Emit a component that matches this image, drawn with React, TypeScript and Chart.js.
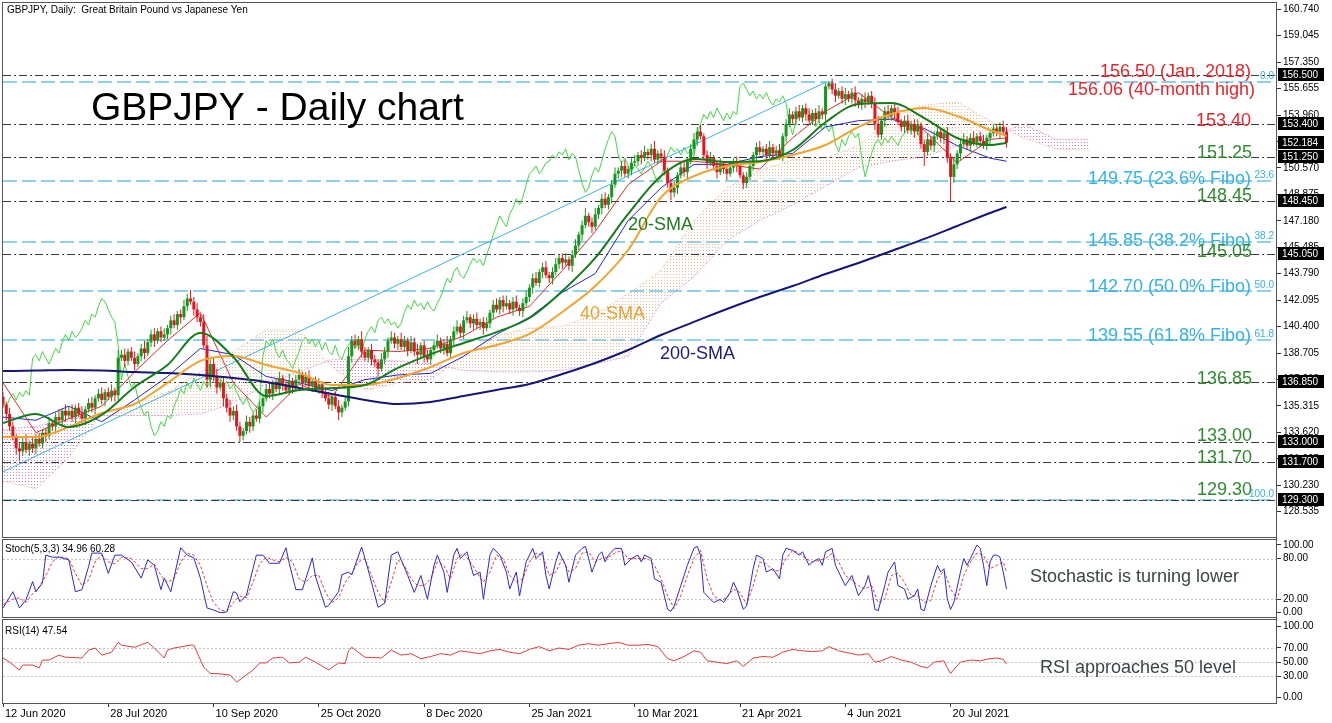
import React, { useEffect, useRef } from 'react';
import { Chart, registerables } from 'chart.js';

Chart.register(...registerables);

// ---------- DATA ----------
const dateLabels = ['12 Jun 2020', '28 Jul 2020', '10 Sep 2020', '25 Oct 2020', '8 Dec 2020', '25 Jan 2021', '10 Mar 2021', '21 Apr 2021', '4 Jun 2021', '20 Jul 2021'];
const dateTickIdx = [0, 32, 64, 96, 128, 160, 192, 224, 256, 288];

const firstOpen = 135.9;
const closes = [
  135.4, 134.8, 134.0, 133.3, 132.6, 132.4, 133.0, 132.5, 132.9, 132.6,
  133.2, 132.9, 133.6, 133.4, 134.2, 134.0, 134.6, 134.4, 135.0, 134.7,
  135.0, 134.6, 135.2, 134.8, 134.5, 135.1, 135.5, 135.2, 135.8, 136.1,
  135.7, 136.2, 135.9, 136.3, 136.0, 138.4, 138.6, 138.2, 138.8, 138.4,
  138.0, 138.5, 139.0, 138.7, 139.4, 139.9, 139.5, 140.1, 139.7, 139.9,
  140.3, 140.8, 140.5, 141.2, 141.0, 141.7, 142.2, 142.0, 141.5, 141.0,
  140.7, 139.2, 137.0, 138.0, 137.2, 136.5, 136.8, 135.8, 135.2, 134.7,
  135.0, 134.0, 133.4, 133.7, 134.3, 134.0, 134.7, 134.5, 135.3, 135.8,
  136.4, 136.1, 136.8, 136.4, 137.1, 136.7, 136.3, 136.9, 136.5, 137.0,
  137.3, 136.8, 137.2, 136.6, 136.9, 136.4, 136.7, 136.2, 135.8, 135.4,
  135.9, 135.3, 134.9, 135.2, 135.6, 138.5, 139.5, 139.2, 139.6, 138.8,
  138.4, 138.9, 138.3, 138.1, 137.7, 138.3, 138.8, 139.5, 139.7, 139.3,
  139.6, 139.1, 139.5, 138.9, 139.4, 138.8, 138.6, 139.2, 138.5, 138.3,
  138.9, 139.2, 139.5, 139.0, 139.3, 138.7, 139.6, 140.1, 140.4, 140.0,
  140.8, 141.0, 140.6, 140.9, 140.5, 140.7, 140.3, 140.6, 141.3, 141.8,
  141.5, 142.1, 141.7, 141.9, 141.5, 142.0, 141.6, 141.4, 141.9, 142.3,
  142.9, 143.5, 143.2, 143.9, 144.2, 143.7, 143.5, 143.9, 144.4, 144.8,
  144.5, 144.7, 144.3, 145.0, 145.6, 146.3, 146.9, 147.5, 147.1, 146.8,
  147.6, 148.0, 148.6, 148.2, 148.7, 149.5, 150.2, 150.4, 150.7, 150.2,
  150.5, 150.9, 151.0, 151.4, 151.2, 151.6, 151.4, 151.8, 151.1, 151.5,
  151.3, 150.4, 149.6, 149.0, 149.3, 150.1, 150.6, 150.3, 151.0, 151.8,
  152.4, 152.9, 152.6, 151.4, 150.9, 151.2, 150.7, 150.3, 150.8, 150.5,
  150.2, 150.6, 151.0, 150.7, 150.1, 149.6, 150.0, 150.7, 151.4, 151.9,
  151.6, 151.8, 151.4, 151.9, 151.5, 151.7, 151.3, 152.6, 153.4, 154.0,
  153.7, 154.2, 153.8, 154.4, 154.0, 153.6, 154.1, 153.7, 154.2, 154.0,
  155.8, 156.0, 155.6, 155.2, 155.5, 155.0, 155.3, 155.0, 155.4, 154.9,
  154.6, 155.0, 154.8, 155.2, 154.7, 153.4, 152.7, 153.6, 154.2, 153.9,
  154.4, 154.1, 153.5, 153.2, 153.6, 153.0, 153.4, 152.9, 153.3, 152.1,
  151.6, 152.4, 152.0, 152.6, 152.9, 152.5, 152.8, 151.2, 150.0, 150.8,
  151.5, 152.1, 152.4, 152.0, 152.5, 152.2, 152.6, 152.3, 152.0, 152.5,
  152.8, 153.1, 152.9, 153.2, 152.9, 152.184,
];
const upWick = [
  .3, .2, .4, .3, .2, .4, .3, .5, .2, .4, .3, .4, .2, .3, .4, .2, .3, .5, .2, .4,
  .3, .4, .2, .3, .5, .2, .3, .4, .2, .3, .4, .2, .3, .4, .2, .5, .3, .4, .2, .3,
  .4, .2, .3, .5, .2, .3, .4, .2, .3, .4, .2, .3, .4, .2, .3, .4, .3, .55, .3, .4,
  .2, .5, .6, .3, .4, .5, .2, .4, .3, .5, .3, .4, .3, .2, .4, .3, .2, .4, .3, .2,
  .3, .4, .2, .3, .4, .2, .3, .5, .2, .3, .4, .2, .3, .4, .2, .3, .4, .2, .3, .4,
  .2, .3, .4, .2, .3, .6, .3, .4, .2, .5, .3, .2, .4, .3, .2, .4, .3, .2, .4, .3,
  .2, .4, .3, .2, .4, .3, .5, .2, .3, .4, .2, .3, .4, .2, .3, .5, .2, .3, .4, .2,
  .3, .4, .2, .3, .4, .2, .3, .4, .2, .3, .4, .2, .3, .5, .2, .3, .4, .2, .3, .4,
  .2, .3, .4, .2, .3, .4, .2, .3, .4, .2, .3, .4, .2, .3, .4, .2, .3, .5, .2, .3,
  .4, .2, .3, .4, .2, .3, .4, .2, .3, .4, .2, .3, .4, .2, .3, .4, .2, .3, .5, .2,
  .3, .4, .2, .3, .4, .2, .3, .4, .2, .3, .4, .3, .4, .2, .3, .4, .2, .3, .4, .2,
  .3, .4, .2, .3, .4, .2, .3, .4, .2, .3, .4, .2, .3, .4, .2, .3, .4, .2, .3, .4,
  .2, .3, .4, .2, .3, .4, .2, .3, .4, .2, .2, .1, .3, .4, .2, .3, .4, .2, .3, .4,
  .2, .3, .4, .2, .3, .4, .5, .2, .3, .4, .2, .3, .4, .2, .3, .4, .2, .3, .4, .2,
  .3, .4, .2, .3, .4, .2, .3, .4, .3, .4, .2, .3, .4, .2, .3, .4, .2, .3, .4, .2,
  .3, .3, .2, .3, .4, .3,
];
const dnWick = [
  .2, .4, .3, .2, .4, .6, .3, .2, .4, .3, .4, .2, .3, .4, .2, .3, .4, .2, .3, .4,
  .2, .3, .4, .2, .3, .4, .2, .3, .4, .2, .3, .4, .2, .3, .4, .3, .2, .4, .3, .2,
  .4, .2, .3, .4, .2, .3, .4, .2, .3, .2, .3, .4, .2, .3, .4, .2, .3, .2, .4, .3,
  .3, .2, .5, .5, .3, .4, .2, .5, .3, .4, .3, .3, .4, .3, .2, .4, .3, .2, .3, .4,
  .2, .3, .4, .2, .3, .4, .2, .3, .4, .2, .3, .4, .2, .3, .4, .2, .3, .4, .2, .3,
  .4, .2, .5, .3, .2, .3, .4, .2, .3, .4, .2, .3, .4, .3, .5, .2, .3, .4, .2, .3,
  .4, .2, .3, .4, .2, .3, .6, .3, .4, .2, .3, .4, .2, .3, .4, .2, .3, .4, .2, .3,
  .4, .2, .3, .4, .2, .3, .4, .2, .3, .4, .2, .3, .4, .2, .3, .4, .2, .3, .4, .2,
  .3, .4, .2, .3, .4, .2, .3, .4, .2, .3, .4, .2, .3, .4, .2, .3, .4, .2, .3, .4,
  .2, .3, .4, .2, .3, .4, .2, .3, .4, .2, .3, .4, .2, .3, .4, .2, .3, .4, .2, .3,
  .4, .3, .3, .5, .3, .4, .2, .3, .4, .2, .3, .4, .2, .3, .4, .2, .3, .4, .2, .3,
  .4, .2, .3, .4, .2, .4, .3, .2, .3, .4, .2, .3, .4, .2, .3, .4, .2, .3, .4, .2,
  .3, .4, .2, .3, .4, .2, .3, .4, .2, .3, .4, .2, .3, .4, .2, .3, .4, .2, .3, .4,
  .2, .3, .4, .2, .3, .4, .2, .3, .4, .2, .3, .4, .2, .3, .4, .2, .3, .4, .2, .3,
  .9, .2, .3, .4, .2, .3, .4, .3, 1.55, .4, .3, .4, .2, .3, .4, .2, .3, .4, .2, .3,
  .4, .2, .3, .4, .2, .3,
];

// indicator lines sampled every 10 bars (+ last bar)
const lineIdx = [0, 10, 20, 30, 40, 50, 60, 70, 80, 90, 100, 110, 120, 130, 140, 150, 160, 170, 180, 190, 200, 210, 220, 230, 240, 250, 260, 270, 280, 290, 300, 305];
const sma20 = [134.22, 134.80, 133.96, 134.74, 136.53, 137.94, 139.99, 138.45, 135.95, 136.34, 136.46, 136.66, 137.75, 138.64, 139.35, 140.05, 140.95, 142.68, 144.80, 147.62, 150.05, 151.14, 150.95, 151.0, 151.72, 153.5, 154.67, 154.73, 153.77, 152.49, 152.04, 152.17];
const sma40 = [133.32, 133.32, 133.96, 134.86, 135.44, 136.79, 138.2, 138.52, 137.94, 137.43, 136.66, 136.66, 137.1, 137.81, 138.71, 139.22, 139.93, 141.34, 143.0, 145.31, 148.7, 150.05, 150.7, 150.95, 151.4, 152.04, 153.2, 154.03, 154.41, 153.9, 153.0, 152.62];
const sma200 = [137.55, 137.58, 137.62, 137.58, 137.49, 137.42, 137.30, 137.10, 136.85, 136.46, 136.08, 135.70, 135.44, 135.57, 135.95, 136.34, 136.72, 137.36, 138.07, 138.9, 139.86, 140.70, 141.53, 142.30, 143.0, 143.77, 144.48, 145.25, 146.02, 146.85, 147.68, 148.07];
const tenkan = [136.8, 133.6, 134.5, 135.3, 137.5, 139.5, 141.3, 136.8, 134.6, 136.7, 135.9, 138.9, 138.8, 139.0, 139.8, 141.0, 141.7, 144.0, 146.5, 149.5, 151.0, 151.0, 150.8, 150.5, 152.5, 154.2, 155.4, 153.8, 153.0, 150.9, 152.4, 152.5];
const kijun = [134.6, 134.4, 135.3, 134.3, 135.7, 137.2, 139.0, 138.6, 137.2, 136.8, 136.3, 137.0, 137.3, 137.4, 138.5, 139.9, 141.0, 142.6, 143.8, 147.2, 149.3, 150.8, 150.8, 151.3, 151.5, 153.2, 153.6, 153.7, 153.1, 152.0, 151.2, 151.0];

// ichimoku cloud (projected 26 bars ahead)
const cloudIdx = [0, 10, 20, 30, 40, 50, 60, 70, 80, 90, 100, 110, 120, 130, 140, 150, 160, 170, 180, 190, 200, 210, 220, 230, 240, 250, 260, 270, 280, 290, 300, 310, 320, 330];
const spanA = [130.5, 130.0, 132.0, 134.8, 135.5, 136.2, 137.5, 138.8, 140.2, 140.2, 137.8, 136.3, 136.8, 137.0, 138.5, 139.8, 140.3, 140.4, 141.2, 142.5, 144.0, 147.2, 149.3, 150.4, 151.1, 151.2, 152.0, 153.8, 154.6, 154.8, 153.6, 152.5, 151.8, 151.7];
const spanB = [133.8, 134.0, 134.5, 134.7, 134.7, 134.7, 134.8, 135.5, 136.7, 137.5, 138.3, 138.3, 138.2, 138.0, 137.6, 137.5, 137.5, 137.6, 138.0, 138.5, 141.9, 143.6, 145.9, 147.2, 148.2, 149.4, 150.6, 151.0, 151.3, 152.0, 152.5, 153.4, 152.4, 152.4];
const chikouShift = 26;

// fibonacci retracement
const fibDiag = [[-18, 129.30], [250, 156.06]];
const fiboLevels = [156.06, 149.75, 145.85, 142.70, 139.55, 129.30];
const fiboTags = ['0.0', '23.6', '38.2', '50.0', '61.8', '100.0'];
const srLevels = [156.50, 153.40, 151.25, 148.45, 145.05, 136.85, 133.00, 131.70, 129.30];
const boxLevels = [156.5, 153.4, 152.184, 151.25, 148.45, 145.05, 136.85, 133.0, 131.7, 129.3];
const priceTicks = [128.535, 130.23, 131.925, 133.62, 135.315, 137.01, 138.705, 140.4, 142.095, 143.79, 145.485, 147.18, 148.875, 150.57, 152.265, 153.96, 155.655, 157.35, 159.045, 160.74];

// Stochastic (5,3,3): [bar, value]
const stochK = [[0, 7], [3, 31], [5, 7], [7, 19], [9, 46], [10, 31], [12, 44], [13, 85], [15, 82], [17, 82], [20, 78], [22, 31], [24, 34], [26, 68], [27, 88], [30, 88], [32, 58], [34, 85], [36, 85], [39, 75], [42, 51], [44, 78], [46, 70], [48, 34], [49, 51], [51, 31], [54, 96], [56, 85], [58, 81], [60, 51], [62, 7], [64, 4], [66, 0], [68, 1], [70, 31], [71, 29], [72, 16], [74, 26], [77, 85], [79, 85], [81, 73], [84, 73], [86, 96], [87, 73], [89, 34], [91, 34], [94, 81], [95, 53], [98, 8], [99, 11], [102, 31], [103, 56], [105, 60], [106, 56], [109, 97], [111, 63], [114, 8], [116, 14], [118, 85], [120, 90],
  [123, 55], [125, 30], [127, 55], [129, 20], [131, 70], [132, 85], [134, 60], [135, 30], [137, 85], [138, 95], [139, 80], [141, 90], [143, 55], [145, 60], [146, 20], [148, 85], [149, 95], [151, 85], [153, 60], [154, 35], [156, 60], [157, 25], [159, 75], [161, 95], [162, 80], [164, 90], [165, 55], [166, 35], [168, 75], [169, 90], [171, 70], [172, 45], [174, 85], [176, 95], [177, 98], [178, 80], [179, 60], [181, 85], [182, 90], [183, 75], [184, 85], [186, 95], [188, 95], [189, 70], [191, 80], [193, 85], [194, 75], [195, 85], [197, 80], [198, 50], [200, 45], [202, 5], [203, 2], [204, 10], [206, 40], [208, 70], [210, 95], [211, 98], [212, 85], [213, 30], [215, 20], [216, 15], [218, 20], [219, 15], [221, 30], [222, 45], [223, 35], [225, 5], [226, 10], [228, 65], [229, 85], [231, 80], [232, 60], [234, 65], [236, 50], [237, 85], [238, 95], [240, 92], [242, 85], [243, 90], [245, 70], [246, 75], [248, 80], [249, 70], [250, 90], [252, 95], [253, 70], [254, 60], [256, 40], [258, 55], [260, 25], [262, 40], [263, 55], [264, 35], [265, 5], [266, 3], [268, 40], [269, 60], [271, 75], [272, 40], [274, 35], [275, 20], [277, 25], [278, 35], [279, 5], [280, 3], [282, 40], [284, 70], [285, 60], [286, 65], [287, 20], [288, 5], [289, 15], [291, 60], [292, 80], [293, 70], [295, 90], [296, 100], [297, 95], [298, 70], [299, 40], [300, 75], [301, 85], [302, 85], [303, 82], [304, 60], [305, 34.96]];
const stochD = [[0, 12], [3, 20], [5, 22], [7, 15], [9, 28], [11, 38], [13, 55], [15, 75], [17, 83], [20, 80], [22, 58], [24, 40], [26, 48], [28, 75], [30, 85], [32, 75], [34, 72], [36, 82], [39, 80], [42, 65], [44, 65], [46, 72], [48, 55], [50, 45], [52, 50], [54, 75], [56, 88], [58, 85], [60, 70], [62, 40], [64, 15], [66, 4], [68, 2], [70, 15], [72, 25], [74, 22], [76, 45], [78, 72], [80, 82], [82, 78], [84, 75], [86, 82], [88, 75], [90, 50], [92, 45], [94, 55], [96, 55], [98, 30], [100, 15], [102, 22], [104, 45], [106, 58], [108, 75], [110, 80], [112, 55], [114, 30], [116, 15], [118, 45], [120, 78],
  [122, 70], [124, 50], [126, 40], [128, 40], [130, 50], [132, 75], [134, 70], [136, 50], [138, 80], [140, 88], [142, 75], [144, 60], [146, 45], [148, 60], [150, 85], [152, 80], [154, 55], [156, 45], [158, 50], [160, 75], [162, 88], [164, 85], [166, 55], [168, 60], [170, 80], [172, 60], [174, 65], [176, 88], [178, 90], [180, 75], [182, 80], [184, 82], [186, 88], [188, 92], [190, 80], [192, 80], [194, 80], [196, 80], [198, 70], [200, 50], [202, 25], [204, 6], [206, 25], [208, 55], [210, 80], [212, 92], [214, 50], [216, 25], [218, 18], [220, 22], [222, 35], [224, 30], [226, 12], [228, 40], [230, 75], [232, 72], [234, 62], [236, 62], [238, 80], [240, 92], [242, 88], [244, 80], [246, 75], [248, 77], [250, 80], [252, 88], [254, 75], [256, 55], [258, 48], [260, 40], [262, 35], [264, 40], [266, 15], [268, 20], [270, 55], [272, 58], [274, 45], [276, 25], [278, 25], [280, 15], [282, 18], [284, 50], [286, 62], [288, 35], [290, 20], [292, 55], [294, 75], [296, 88], [298, 85], [300, 65], [302, 70], [304, 75], [305, 60.28]];
const stochTicks = [0, 20, 80, 100];
const stochGrid = [20, 80];

// RSI(14): [bar, value]
const rsi = [[0, 56], [2, 50], [5, 39], [6, 46], [9, 46], [11, 42], [12, 53], [14, 53], [17, 60], [19, 57], [24, 56], [26, 67], [28, 70], [30, 60], [33, 64], [35, 78], [36, 74], [40, 71], [44, 78], [46, 70], [49, 56], [50, 67], [52, 70], [57, 74], [58, 74], [61, 43], [63, 34], [65, 34], [69, 32], [71, 22], [76, 39], [78, 49], [80, 49], [82, 56], [85, 57], [87, 49], [90, 50], [92, 57], [95, 50], [99, 39], [102, 49], [104, 48], [105, 66], [106, 71], [110, 57], [115, 56], [118, 67], [121, 60],
  [124, 62], [127, 55], [130, 58], [133, 62], [136, 60], [139, 66], [142, 64], [145, 62], [148, 66], [151, 68], [154, 64], [157, 62], [160, 68], [163, 72], [166, 66], [169, 70], [172, 68], [175, 74], [178, 76], [181, 74], [184, 76], [187, 78], [190, 74], [193, 74], [196, 75], [199, 72], [202, 55], [204, 52], [207, 58], [210, 66], [212, 64], [214, 52], [217, 50], [220, 48], [223, 52], [225, 44], [228, 56], [231, 58], [234, 57], [237, 64], [240, 68], [243, 66], [246, 65], [249, 66], [251, 72], [254, 66], [257, 63], [260, 60], [263, 62], [265, 50], [267, 52], [270, 58], [273, 53], [276, 50], [279, 44], [281, 42], [283, 50], [286, 52], [287, 42], [288, 34], [289, 40], [291, 50], [294, 53], [297, 52], [300, 55], [302, 56], [304, 54], [305, 47.54]];
const rsiTicks = [0, 30, 50, 70, 100];
const rsiGrid = [30, 50, 70];

// ---------- STYLE ----------
const FONT = "'Liberation Sans', Arial, sans-serif";
const RED = '#e8252b';
const GRN = '#2e8b2e';
const BLU = '#35b2e4';
const FIBLINE = '#8fd0ea';

const levelNotes = [
  { text: '156.50 (Jan. 2018)', price: 156.50, dy: 2, color: RED, right: 1251 },
  { text: '156.06 (40-month high)', price: 156.06, dy: 13, color: RED, right: 1255 },
  { text: '153.40', price: 153.40, dy: 2, color: RED, right: 1251 },
  { text: '151.25', price: 151.25, dy: 1, color: GRN, right: 1252 },
  { text: '149.75 (23.6% Fibo)', price: 149.75, dy: 3, color: BLU, right: 1251 },
  { text: '148.45', price: 148.45, dy: 0, color: GRN, right: 1252 },
  { text: '145.85 (38.2% Fibo)', price: 145.85, dy: 4, color: BLU, right: 1251 },
  { text: '145.05', price: 145.05, dy: 3, color: GRN, right: 1252 },
  { text: '142.70 (50.0% Fibo)', price: 142.70, dy: 1, color: BLU, right: 1251 },
  { text: '139.55 (61.8% Fibo)', price: 139.55, dy: 1, color: BLU, right: 1251 },
  { text: '136.85', price: 136.85, dy: 2, color: GRN, right: 1252 },
  { text: '133.00', price: 133.00, dy: -1, color: GRN, right: 1252 },
  { text: '131.70', price: 131.70, dy: 1, color: GRN, right: 1252 },
  { text: '129.30', price: 129.30, dy: -5, color: GRN, right: 1252 },
];

function dotPattern(color: string) {
  const c = document.createElement('canvas');
  c.width = 3; c.height = 3;
  const g = c.getContext('2d')!;
  g.fillStyle = color;
  g.fillRect(1, 1, 1, 1);
  return g.createPattern(c, 'repeat');
}

const fixY = (w: number) => (s: any) => { s.width = w; s.paddingTop = 0; s.paddingBottom = 0; };

const overlayPlugin = {
  id: 'overlay',
  beforeDatasetsDraw(chart: any) {
    const { ctx, chartArea: ca, scales } = chart;
    const y = scales.y;
    ctx.save();
    ctx.strokeStyle = FIBLINE; ctx.lineWidth = 2; ctx.setLineDash([14, 5]);
    fiboLevels.forEach((v) => {
      const py = Math.round(y.getPixelForValue(v));
      ctx.beginPath(); ctx.moveTo(ca.left, py); ctx.lineTo(ca.right, py); ctx.stroke();
    });
    ctx.strokeStyle = '#3a3a3a'; ctx.lineWidth = 1; ctx.setLineDash([8, 3, 2, 3]);
    srLevels.forEach((v) => {
      const py = Math.round(y.getPixelForValue(v)) + 0.5;
      ctx.beginPath(); ctx.moveTo(ca.left, py); ctx.lineTo(ca.right, py); ctx.stroke();
    });
    ctx.strokeStyle = '#c4c4c4'; ctx.setLineDash([2, 2]);
    stochGrid.forEach((v) => {
      const py = Math.round(scales.yS.getPixelForValue(v)) + 0.5;
      ctx.beginPath(); ctx.moveTo(ca.left, py); ctx.lineTo(ca.right, py); ctx.stroke();
    });
    rsiGrid.forEach((v) => {
      const py = Math.round(scales.yR.getPixelForValue(v)) + 0.5;
      ctx.beginPath(); ctx.moveTo(ca.left, py); ctx.lineTo(ca.right, py); ctx.stroke();
    });
    ctx.restore();
  },
  afterDatasetsDraw(chart: any) {
    const { ctx, scales } = chart;
    const y = scales.y;
    ctx.save();
    ctx.textBaseline = 'alphabetic';
    ctx.font = `10px ${FONT}`; ctx.fillStyle = BLU; ctx.textAlign = 'right';
    fiboLevels.forEach((v, k) => ctx.fillText(fiboTags[k], 1274, Math.round(y.getPixelForValue(v)) - 3));
    ctx.font = `18px ${FONT}`;
    levelNotes.forEach((n) => {
      ctx.fillStyle = n.color; ctx.textAlign = 'right';
      ctx.fillText(n.text, n.right, Math.round(y.getPixelForValue(n.price)) + n.dy);
    });
    ctx.textAlign = 'left';
    ctx.fillStyle = '#1f7a1f'; ctx.fillText('20-SMA', 628, 230);
    ctx.fillStyle = '#f0a030'; ctx.fillText('40-SMA', 580, 319);
    ctx.fillStyle = '#1c1c7c'; ctx.fillText('200-SMA', 660, 359);
    ctx.fillStyle = '#3c4648';
    ctx.fillText('Stochastic is turning lower', 1030, 582);
    ctx.fillText('RSI approaches 50 level', 1040, 673);
    ctx.fillStyle = '#000';
    ctx.font = `39px ${FONT}`;
    ctx.fillText('GBPJPY - Daily chart', 91, 120);
    ctx.font = `10px ${FONT}`;
    ctx.fillText('GBPJPY, Daily:  Great Britain Pound vs Japanese Yen', 7, 13);
    ctx.fillText('Stoch(5,3,3) 34.96 60.28', 5, 552);
    ctx.fillText('RSI(14) 47.54', 5, 634);
    ctx.restore();
  },
  afterDraw(chart: any) {
    const { ctx, chartArea: ca, scales } = chart;
    ctx.save();
    ctx.strokeStyle = '#555'; ctx.lineWidth = 1;
    const m = scales.y, s = scales.yS, r = scales.yR;
    ctx.strokeRect(ca.left - 0.5, 2.5, ca.right - ca.left + 1, m.bottom - 3);
    ctx.strokeRect(ca.left - 0.5, s.top + 1.5, ca.right - ca.left + 1, s.bottom - s.top - 2);
    ctx.strokeRect(ca.left - 0.5, r.top + 1.5, ca.right - ca.left + 1, r.bottom - r.top - 1);
    ctx.font = `10px ${FONT}`; ctx.textBaseline = 'middle'; ctx.textAlign = 'left';
    boxLevels.forEach((v) => {
      const py = Math.round(m.getPixelForValue(v));
      ctx.fillStyle = '#000'; ctx.fillRect(ca.right + 2, py - 7, 46, 13);
      ctx.fillStyle = '#fff'; ctx.fillText(v.toFixed(3), ca.right + 6, py + 0.5);
    });
    ctx.restore();
  },
};

export default function App() {
  const ref = useRef<HTMLCanvasElement>(null);
  useEffect(() => {
    const peach = dotPattern('#f2b894');
    const pink = dotPattern('#e07ccd');
    const opens = closes.map((c, i) => (i === 0 ? firstOpen : closes[i - 1]));
    const bull = closes.map((c, i) => c >= opens[i]);
    const candleColor = bull.map((b) => (b ? '#16961a' : '#e8141c'));
    const wicks = closes.map((c, i) => ({ x: i, y: [Math.min(c, opens[i]) - dnWick[i], Math.max(c, opens[i]) + upWick[i]] }));
    const bodies = closes.map((c, i) => ({ x: i, y: [opens[i], c] }));
    const sampled = (arr: number[]) => arr.map((v, k) => ({ x: lineIdx[k], y: v }));
    const pairs = (arr: number[][]) => arr.map((p) => ({ x: p[0], y: p[1] }));
    const chikou = closes.slice(chikouShift).map((c, k) => ({ x: k, y: c }));

    const lineBase = { type: 'line', pointRadius: 0, borderWidth: 1, tension: 0, fill: false, yAxisID: 'y' };

    const datasets: any[] = [
      { ...lineBase, data: cloudIdx.map((x, k) => ({ x, y: spanA[k] })), borderColor: '#f2a470', borderDash: [1, 2], fill: { target: 1, above: peach, below: pink }, order: 20 },
      { ...lineBase, data: cloudIdx.map((x, k) => ({ x, y: spanB[k] })), borderColor: '#d866c6', borderDash: [1, 2], order: 19 },
      { ...lineBase, data: chikou, borderColor: '#3ddc3d', order: 18 },
      { ...lineBase, data: pairs(fibDiag), borderColor: '#3ab4e6', order: 17 },
      { ...lineBase, data: sampled(kijun), borderColor: '#2424d4', order: 16 },
      { ...lineBase, data: sampled(tenkan), borderColor: '#e62a2a', order: 15 },
      { type: 'bar', data: wicks, backgroundColor: candleColor, grouped: false, maxBarThickness: 1, barPercentage: 1, categoryPercentage: 1, inflateAmount: 0, borderWidth: 0, yAxisID: 'y', order: 14 },
      { type: 'bar', data: bodies, backgroundColor: candleColor, grouped: false, maxBarThickness: 3, barPercentage: 1, categoryPercentage: 1, inflateAmount: 0, borderWidth: 0, minBarLength: 1, yAxisID: 'y', order: 13 },
      { ...lineBase, data: sampled(sma200), borderColor: '#16167a', borderWidth: 2, cubicInterpolationMode: 'monotone', order: 12 },
      { ...lineBase, data: sampled(sma40), borderColor: '#f5a22a', borderWidth: 2, cubicInterpolationMode: 'monotone', order: 11 },
      { ...lineBase, data: sampled(sma20), borderColor: '#137d18', borderWidth: 2, cubicInterpolationMode: 'monotone', order: 10 },
      { ...lineBase, data: pairs(stochD), borderColor: '#e34040', borderDash: [3, 2], yAxisID: 'yS', order: 3 },
      { ...lineBase, data: pairs(stochK), borderColor: '#2a2ad2', yAxisID: 'yS', order: 2 },
      { ...lineBase, data: pairs(rsi), borderColor: '#e03c3c', yAxisID: 'yR', order: 1 },
    ];

    const yCommon = {
      type: 'linear', position: 'right', stack: 'panels', offset: false,
      border: { display: true, color: '#333' },
      grid: { drawOnChartArea: false, drawTicks: true, tickLength: 5, color: '#333', offset: false },
      afterFit: fixY(56),
    };

    const chart = new Chart(ref.current!, {
      type: 'line',
      data: { datasets },
      options: {
        responsive: false,
        animation: false,
        devicePixelRatio: 1,
        events: [],
        layout: { padding: { left: 3, top: 3, right: 0, bottom: 0 } },
        plugins: { legend: { display: false }, tooltip: { enabled: false } },
        scales: {
          x: {
            type: 'linear', min: 0, max: 386.9, offset: false,
            border: { display: true, color: '#333' },
            grid: { drawOnChartArea: false, drawTicks: true, tickLength: 4, color: '#333', offset: false },
            afterBuildTicks: (s: any) => { s.ticks = dateTickIdx.map((v) => ({ value: v })); },
            afterFit: (s: any) => { s.height = 20; s.paddingLeft = 0; s.paddingRight = 0; },
            ticks: {
              autoSkip: false, maxRotation: 0, align: 'start', padding: 0, labelOffset: 2, color: '#000',
              font: { family: FONT, size: 11 },
              callback: (v: any) => dateLabels[dateTickIdx.indexOf(v)] ?? '',
            },
          },
          y: {
            ...yCommon, stackWeight: 535, min: 126.849, max: 161.144,
            afterBuildTicks: (s: any) => { s.ticks = priceTicks.map((v) => ({ value: v })); },
            ticks: { autoSkip: false, padding: 2, color: '#000', font: { family: FONT, size: 10 }, callback: (v: any) => Number(v).toFixed(3) },
          },
          yS: {
            ...yCommon, stackWeight: 80, min: -7.8, max: 110.3,
            afterBuildTicks: (s: any) => { s.ticks = stochTicks.map((v) => ({ value: v })); },
            ticks: { autoSkip: false, padding: 2, color: '#000', font: { family: FONT, size: 10 }, callback: (v: any) => Number(v).toFixed(2) },
          },
          yR: {
            ...yCommon, stackWeight: 85, min: -7.46, max: 112.25,
            afterBuildTicks: (s: any) => { s.ticks = rsiTicks.map((v) => ({ value: v })); },
            ticks: { autoSkip: false, padding: 2, color: '#000', font: { family: FONT, size: 10 }, callback: (v: any) => Number(v).toFixed(2) },
          },
        },
      } as any,
      plugins: [overlayPlugin],
    } as any);
    return () => chart.destroy();
  }, []);

  return (
    <div style={{ position: 'absolute', left: 0, top: 0, width: 1332, height: 723, background: '#fff' }}>
      <canvas ref={ref} width={1332} height={723} style={{ width: 1332, height: 723, display: 'block' }} />
    </div>
  );
}
